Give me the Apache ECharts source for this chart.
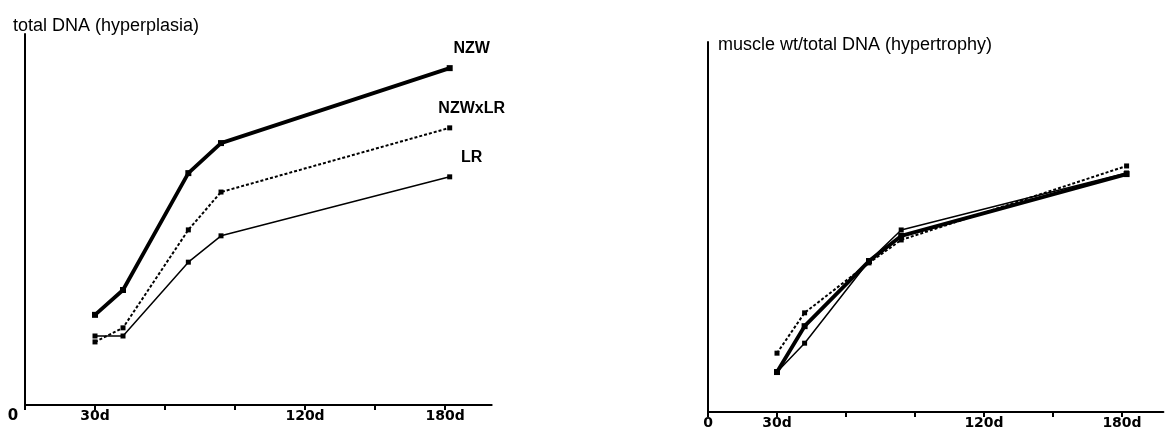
<!DOCTYPE html>
<html>
<head>
<meta charset="utf-8">
<script src="https://cdn.jsdelivr.net/npm/echarts@6/dist/echarts.min.js"></script>
<style>
	html, body { margin: 0; padding: 0; background: #fff; }
	#chart { width: 1165px; height: 437px; }
</style>
</head>
<body>
<div id="chart"></div>
<script>
// age in days at each sampling
let days = [30, 42, 70, 84, 182];

// left panel : total DNA (hyperplasia), arbitrary units
let dnaNZW = [24.3, 31, 62.5, 70.6, 90.8];
let dnaCross = [17, 20.8, 47.2, 57.4, 74.7];
let dnaLR = [18.6, 18.6, 38.5, 45.6, 61.5];

// right panel : muscle wt / total DNA (hypertrophy)
let hypNZW = [10.8, 23.2, 40.8, 47.6, 64.3];
let hypCross = [15.9, 26.8, 40.3, 46.5, 66.5];
let hypLR = [10.8, 18.6, 40.8, 49.2, 64.6];

let seriesNames = ['NZW', 'NZWxLR', 'LR'];
let tickDays = [0, 30, 120, 180];
let tickNames = ['0', '30d', '120d', '180d'];

let fontFam = '"Liberation Sans", Arial, sans-serif';
let tickFam = '"DejaVu Sans", sans-serif';

function pairs(vals){
	let out = [];
	for(i in vals){
		out.push([days[i], vals[i]]);
	}
	return out;
}

function tickText(v, shiftZero){
	let k = tickDays.indexOf(v);
	if(k < 0) return '';
	if(k == 0 && shiftZero) return '{z|' + tickNames[k] + '}';
	return tickNames[k];
}

function xAxisFor(idx, max, shiftZero){
	return {
		type: 'value',
		gridIndex: idx,
		min: 0,
		max: max,
		interval: 30,
		splitLine: { show: false },
		axisLine: { show: true, lineStyle: { color: '#000', width: 2 } },
		axisTick: { show: true, length: 5, lineStyle: { color: '#000', width: 2 } },
		axisLabel: {
			color: '#000',
			fontFamily: tickFam,
			fontSize: 14,
			fontWeight: 'bold',
			margin: 4,
			showMaxLabel: false,
			formatter: function(v){ return tickText(v, shiftZero); },
			rich: { z: { fontSize: 15, fontFamily: tickFam, fontWeight: 'bold', color: '#000', padding: [0, 24, 0, 0] } }
		}
	};
}

function yAxisFor(idx){
	return {
		type: 'value',
		gridIndex: idx,
		min: 0,
		max: 100,
		splitLine: { show: false },
		axisTick: { show: false },
		axisLabel: { show: false },
		axisLine: { show: true, onZero: false, lineStyle: { color: '#000', width: 2 } }
	};
}

function lineSeries(idx, name, vals, kind, withLabel){
	let style = { color: '#000', width: 1.5, type: 'solid' };
	let size = 5;
	if(kind == 'thick'){ style.width = 3.8; size = 6; }
	if(kind == 'dot'){ style.width = 2; style.type = [3, 2]; }
	let data = pairs(vals);
	if(withLabel){
		let last = data.length - 1;
		data[last] = {
			value: data[last],
			label: {
				show: true,
				position: 'top',
				offset: [22, -4],
				formatter: name,
				color: '#000',
				fontFamily: fontFam,
				fontSize: 16,
				fontWeight: 'bold'
			}
		};
	}
	return {
		name: name,
		type: 'line',
		xAxisIndex: idx,
		yAxisIndex: idx,
		data: data,
		symbol: 'rect',
		symbolSize: size,
		showSymbol: true,
		itemStyle: { color: '#000' },
		lineStyle: style,
		silent: true,
		animation: false
	};
}

var chart = echarts.init(document.getElementById('chart'), null, { renderer: 'canvas' });
option = {
	backgroundColor: '#fff',
	animation: false,
	title: [
		{
			text: 'total DNA (hyperplasia)',
			left: 8, top: 12,
			textStyle: { color: '#000', fontFamily: fontFam, fontSize: 18, fontWeight: 'normal' }
		},
		{
			text: 'muscle wt/total DNA (hypertrophy)',
			left: 713, top: 31,
			textStyle: { color: '#000', fontFamily: fontFam, fontSize: 18, fontWeight: 'normal' }
		}
	],
	grid: [
		{ left: 25, top: 34, width: 466.7, bottom: 32 },
		{ left: 708, top: 42, width: 455.4, bottom: 25 }
	],
	xAxis: [xAxisFor(0, 200, true), xAxisFor(1, 198, false)],
	yAxis: [yAxisFor(0), yAxisFor(1)],
	series: [
		lineSeries(0, seriesNames[0], dnaNZW, 'thick', true),
		lineSeries(0, seriesNames[1], dnaCross, 'dot', true),
		lineSeries(0, seriesNames[2], dnaLR, 'thin', true),
		lineSeries(1, seriesNames[0], hypNZW, 'thick', false),
		lineSeries(1, seriesNames[1], hypCross, 'dot', false),
		lineSeries(1, seriesNames[2], hypLR, 'thin', false)
	]
};
chart.setOption(option);
</script>
</body>
</html>
